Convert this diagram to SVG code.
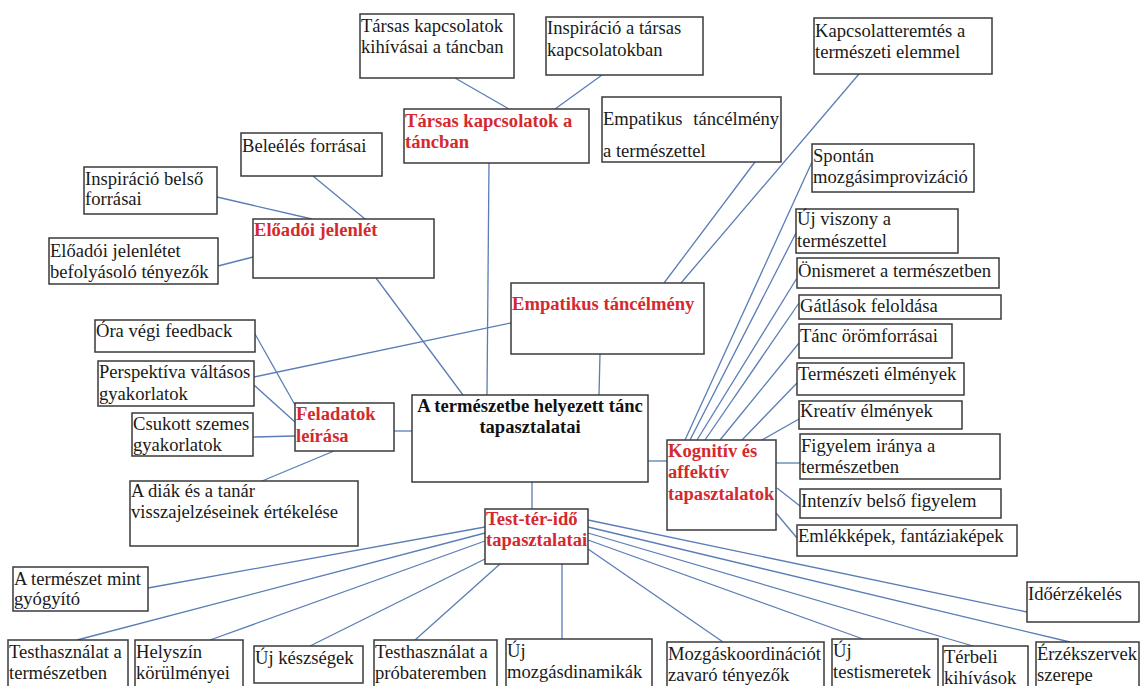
<svg xmlns="http://www.w3.org/2000/svg" width="1140" height="686" viewBox="0 0 1140 686">
<style>
.b{fill:#fff;stroke:#3a3a3a;stroke-width:1.5}
.t{font-family:"Liberation Serif","Times New Roman",serif;font-size:18.6px;fill:#1a1a1a}
.r{font-weight:bold;fill:#d42a2f}
.k{font-weight:bold;fill:#111}
.c line{stroke:#5a7db5;stroke-width:1.3}
</style>
<rect width="1140" height="686" fill="#fff"/>
<g id="connectors" class="c">
<line x1="489" y1="163" x2="487" y2="395"/>
<line x1="376" y1="278" x2="463" y2="395"/>
<line x1="600" y1="354" x2="599" y2="395"/>
<line x1="394" y1="431" x2="412" y2="431"/>
<line x1="648" y1="461" x2="667" y2="461"/>
<line x1="532" y1="482" x2="532" y2="509"/>
<line x1="455" y1="78" x2="509" y2="109"/>
<line x1="602" y1="75" x2="555" y2="109"/>
<line x1="313" y1="176" x2="365" y2="219"/>
<line x1="217" y1="197" x2="312" y2="219"/>
<line x1="218" y1="266" x2="253" y2="257"/>
<line x1="511" y1="323" x2="254" y2="377"/>
<line x1="255" y1="334" x2="295" y2="405"/>
<line x1="254" y1="385" x2="295" y2="422"/>
<line x1="253" y1="437" x2="295" y2="436"/>
<line x1="334" y1="451" x2="262" y2="481"/>
<line x1="755" y1="162" x2="664" y2="283"/>
<line x1="859" y1="74" x2="681" y2="283"/>
<line x1="812" y1="162" x2="685" y2="440"/>
<line x1="796" y1="233" x2="690" y2="440"/>
<line x1="797" y1="278" x2="697" y2="440"/>
<line x1="799" y1="303" x2="705" y2="440"/>
<line x1="799" y1="343" x2="720" y2="440"/>
<line x1="797" y1="383" x2="742" y2="440"/>
<line x1="799" y1="419" x2="762" y2="440"/>
<line x1="776" y1="463" x2="800" y2="463"/>
<line x1="777" y1="488" x2="800" y2="506"/>
<line x1="776" y1="513" x2="797" y2="538"/>
<line x1="485" y1="527" x2="148" y2="588"/>
<line x1="485" y1="533" x2="77" y2="640"/>
<line x1="485" y1="541" x2="210" y2="640"/>
<line x1="485" y1="559" x2="310" y2="646"/>
<line x1="500" y1="564" x2="415" y2="640"/>
<line x1="562" y1="564" x2="562" y2="639"/>
<line x1="588" y1="549" x2="723" y2="642"/>
<line x1="588" y1="540" x2="863" y2="639"/>
<line x1="588" y1="533" x2="973" y2="646"/>
<line x1="588" y1="527" x2="1070" y2="642"/>
<line x1="588" y1="520" x2="1027" y2="612"/>
</g>
<g id="n-center"><rect class="b" x="412" y="395" width="236" height="87"/><text class="t k" x="530" y="412" text-anchor="middle">A természetbe helyezett tánc</text><text class="t k" x="530" y="433" text-anchor="middle">tapasztalatai</text></g>
<g id="n-tarsas"><rect class="b" x="404" y="109" width="185" height="54"/><text class="t r" x="405" y="127">Társas kapcsolatok a</text><text class="t r" x="405" y="148">táncban</text></g>
<g id="n-tarsas-kihiv"><rect class="b" x="360" y="14" width="154" height="64"/><text class="t" x="361" y="32">Társas kapcsolatok</text><text class="t" x="361" y="53">kihívásai a táncban</text></g>
<g id="n-tarsas-insp"><rect class="b" x="546" y="17" width="157" height="58"/><text class="t" x="547" y="34">Inspiráció a társas</text><text class="t" x="547" y="56">kapcsolatokban</text></g>
<g id="n-emp-term"><rect class="b" x="602" y="97" width="179" height="65"/><text class="t" x="603" y="125">Empatikus</text><text class="t" x="779" y="125" text-anchor="end">táncélmény</text><text class="t" x="603" y="157">a természettel</text></g>
<g id="n-kapcs"><rect class="b" x="814" y="18" width="178" height="56"/><text class="t" x="815" y="37">Kapcsolatteremtés a</text><text class="t" x="815" y="58">természeti elemmel</text></g>
<g id="n-beleeles"><rect class="b" x="241" y="133" width="141" height="43"/><text class="t" x="242" y="152">Beleélés forrásai</text></g>
<g id="n-insp-belso"><rect class="b" x="84" y="167" width="133" height="47"/><text class="t" x="85" y="185">Inspiráció belső</text><text class="t" x="85" y="205">forrásai</text></g>
<g id="n-eloadoi"><rect class="b" x="253" y="219" width="181" height="59"/><text class="t r" x="254" y="236">Előadói jelenlét</text></g>
<g id="n-eloadoi-tenyezok"><rect class="b" x="49" y="238" width="169" height="46"/><text class="t" x="50" y="257">Előadói jelenlétet</text><text class="t" x="50" y="278">befolyásoló tényezők</text></g>
<g id="n-empatikus"><rect class="b" x="511" y="283" width="193" height="71"/><text class="t r" x="512" y="310">Empatikus táncélmény</text></g>
<g id="n-feladatok"><rect class="b" x="295" y="403" width="99" height="48"/><text class="t r" x="296" y="420">Feladatok</text><text class="t r" x="296" y="442">leírása</text></g>
<g id="n-ora"><rect class="b" x="95" y="320" width="160" height="32"/><text class="t" x="96" y="337">Óra végi feedback</text></g>
<g id="n-persp"><rect class="b" x="98" y="361" width="156" height="45"/><text class="t" x="99" y="378">Perspektíva váltásos</text><text class="t" x="99" y="400">gyakorlatok</text></g>
<g id="n-csukott"><rect class="b" x="132" y="413" width="121" height="43"/><text class="t" x="133" y="430">Csukott szemes</text><text class="t" x="133" y="451">gyakorlatok</text></g>
<g id="n-diak"><rect class="b" x="130" y="481" width="228" height="65"/><text class="t" x="131" y="497">A diák és a tanár</text><text class="t" x="131" y="518">visszajelzéseinek értékelése</text></g>
<g id="n-kognitiv"><rect class="b" x="667" y="440" width="109" height="90"/><text class="t r" x="668" y="457">Kognitív és</text><text class="t r" x="668" y="478">affektív</text><text class="t r" x="668" y="500">tapasztalatok</text></g>
<g id="n-spontan"><rect class="b" x="812" y="144" width="162" height="48"/><text class="t" x="813" y="162">Spontán</text><text class="t" x="813" y="183">mozgásimprovizáció</text></g>
<g id="n-uj-viszony"><rect class="b" x="796" y="209" width="162" height="44"/><text class="t" x="797" y="225">Új viszony a</text><text class="t" x="797" y="247">természettel</text></g>
<g id="n-onismeret"><rect class="b" x="797" y="258" width="202" height="30"/><text class="t" x="798" y="277">Önismeret a természetben</text></g>
<g id="n-gatlasok"><rect class="b" x="799" y="295" width="202" height="24"/><text class="t" x="800" y="312">Gátlások feloldása</text></g>
<g id="n-tanc-orom"><rect class="b" x="799" y="324" width="153" height="34"/><text class="t" x="800" y="342">Tánc örömforrásai</text></g>
<g id="n-termeszeti"><rect class="b" x="797" y="363" width="167" height="32"/><text class="t" x="798" y="380">Természeti élmények</text></g>
<g id="n-kreativ"><rect class="b" x="799" y="401" width="163" height="28"/><text class="t" x="800" y="417">Kreatív élmények</text></g>
<g id="n-figyelem"><rect class="b" x="800" y="434" width="200" height="45"/><text class="t" x="801" y="452">Figyelem iránya a</text><text class="t" x="801" y="473">természetben</text></g>
<g id="n-intenziv"><rect class="b" x="800" y="489" width="201" height="29"/><text class="t" x="801" y="507">Intenzív belső figyelem</text></g>
<g id="n-emlekkepek"><rect class="b" x="797" y="525" width="220" height="31"/><text class="t" x="798" y="542">Emlékképek, fantáziaképek</text></g>
<g id="n-testter"><rect class="b" x="485" y="509" width="103" height="55"/><text class="t r" x="486" y="525">Test-tér-idő</text><text class="t r" x="486" y="546">tapasztalatai</text></g>
<g id="n-gyogyito"><rect class="b" x="13" y="567" width="135" height="44"/><text class="t" x="14" y="585">A természet mint</text><text class="t" x="14" y="605">gyógyító</text></g>
<g id="n-test-term"><rect class="b" x="8" y="640" width="120" height="60"/><text class="t" x="9" y="658">Testhasználat a</text><text class="t" x="9" y="679">természetben</text></g>
<g id="n-helyszin"><rect class="b" x="135" y="640" width="108" height="60"/><text class="t" x="136" y="658">Helyszín</text><text class="t" x="136" y="679">körülményei</text></g>
<g id="n-uj-keszsegek"><rect class="b" x="254" y="646" width="109" height="37"/><text class="t" x="255" y="664">Új készségek</text></g>
<g id="n-test-proba"><rect class="b" x="374" y="640" width="123" height="60"/><text class="t" x="375" y="658">Testhasználat a</text><text class="t" x="375" y="679">próbateremben</text></g>
<g id="n-uj-mozgasdin"><rect class="b" x="506" y="639" width="146" height="60"/><text class="t" x="507" y="657">Új</text><text class="t" x="507" y="678">mozgásdinamikák</text></g>
<g id="n-mozgaskoord"><rect class="b" x="667" y="642" width="157" height="60"/><text class="t" x="668" y="660">Mozgáskoordinációt</text><text class="t" x="668" y="681">zavaró tényezők</text></g>
<g id="n-uj-testism"><rect class="b" x="832" y="639" width="106" height="60"/><text class="t" x="833" y="657">Új</text><text class="t" x="833" y="678">testismeretek</text></g>
<g id="n-terbeli"><rect class="b" x="943" y="646" width="85" height="60"/><text class="t" x="944" y="663">Térbeli</text><text class="t" x="944" y="684">kihívások</text></g>
<g id="n-erzekszervek"><rect class="b" x="1036" y="642" width="103" height="60"/><text class="t" x="1037" y="660">Érzékszervek</text><text class="t" x="1037" y="681">szerepe</text></g>
<g id="n-idoerzekeles"><rect class="b" x="1027" y="582" width="112" height="40"/><text class="t" x="1028" y="600">Időérzékelés</text></g>
</svg>
